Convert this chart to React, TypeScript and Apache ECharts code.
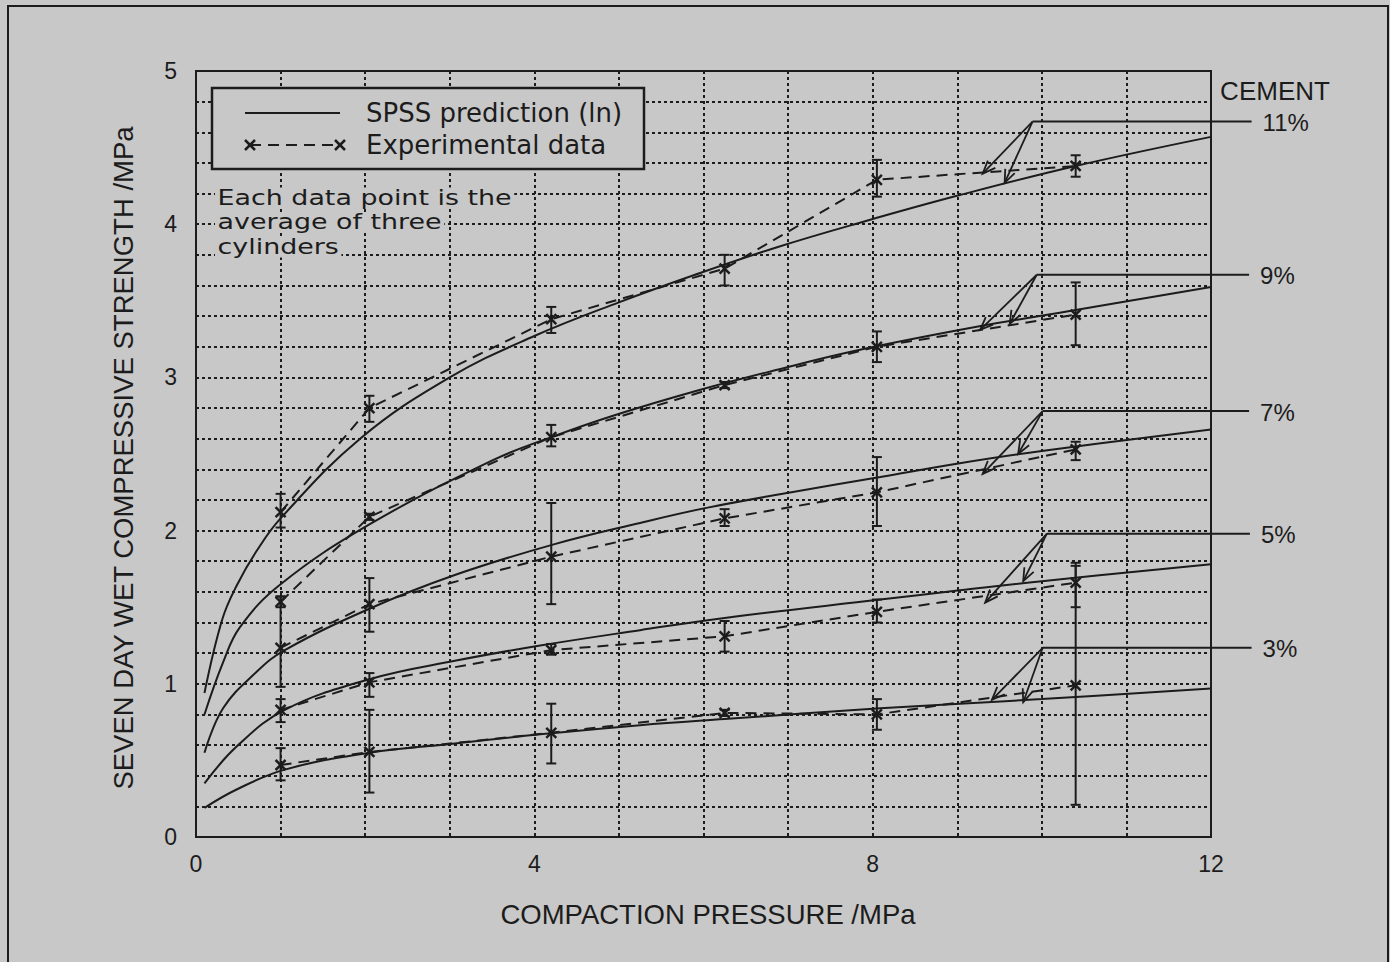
import React, { useEffect, useRef } from "react";
import * as echarts from "echarts";

// ---------- data ----------
const pressure = [1.0, 2.05, 4.2, 6.25, 8.05, 10.4];
const cementLabels = ["11%", "9%", "7%", "5%", "3%"];

const exp11 = [2.12, 2.8, 3.38, 3.71, 4.29, 4.38];
const exp9 = [1.535, 2.09, 2.61, 2.95, 3.2, 3.41];
const exp7 = [1.235, 1.52, 1.83, 2.08, 2.25, 2.53];
const exp5 = [0.83, 1.01, 1.22, 1.31, 1.47, 1.66];
const exp3 = [0.47, 0.555, 0.68, 0.81, 0.8, 0.99];

const low11 = [2.02, 2.71, 3.29, 3.6, 4.18, 4.31];
const high11 = [2.24, 2.88, 3.46, 3.8, 4.42, 4.45];
const low9 = [1.5, 2.07, 2.55, 2.93, 3.1, 3.21];
const high9 = [1.57, 2.11, 2.69, 2.97, 3.3, 3.62];
const low7 = [0.98, 1.34, 1.52, 2.03, 2.03, 2.46];
const high7 = [1.57, 1.69, 2.18, 2.14, 2.48, 2.58];
const low5 = [0.75, 0.915, 1.19, 1.21, 1.4, 1.5];
const high5 = [0.9, 1.07, 1.26, 1.41, 1.55, 1.79];
const low3 = [0.37, 0.29, 0.48, 0.79, 0.7, 0.21];
const high3 = [0.58, 0.83, 0.87, 0.83, 0.9, 1.77];

const fitX11 = [0.1, 0.31, 0.48, 0.72, 1.0, 1.94, 3.0, 4.0, 5.0, 5.9, 6.87, 7.85, 9.03, 10.4, 12];
const fit11 = [0.94, 1.42, 1.64, 1.87, 2.08, 2.6, 3.0, 3.27, 3.49, 3.67, 3.85, 4.01, 4.19, 4.38, 4.57];
const fitX9 = [0.1, 0.32, 0.52, 1.0, 2.05, 3.51, 4.2, 4.93, 5.9, 6.87, 7.85, 9.23, 10.4, 12];
const fit9 = [0.8, 1.14, 1.37, 1.65, 2.04, 2.46, 2.61, 2.75, 2.91, 3.05, 3.18, 3.33, 3.44, 3.59];
const fitX7 = [0.1, 0.32, 0.72, 1.05, 2.05, 3.06, 4.23, 5.25, 6.05, 7.04, 8.09, 9.03, 10.0, 12];
const fit7 = [0.55, 0.84, 1.08, 1.22, 1.49, 1.71, 1.91, 2.05, 2.15, 2.25, 2.35, 2.44, 2.52, 2.66];
const fitX5 = [0.1, 0.48, 1.05, 2.05, 3.06, 4.07, 5.25, 6.25, 8.09, 9.03, 10.0, 12];
const fit5 = [0.35, 0.59, 0.83, 1.03, 1.15, 1.25, 1.35, 1.43, 1.55, 1.61, 1.67, 1.78];
const fitX3 = [0.1, 0.48, 1.05, 2.05, 3.06, 4.07, 5.25, 6.25, 8.09, 9.03, 10.0, 12];
const fit3 = [0.19, 0.31, 0.44, 0.55, 0.61, 0.67, 0.73, 0.77, 0.84, 0.87, 0.9, 0.97];

// annotation callouts (data coordinates)
const annoAnchorX = [9.89, 9.94, 10.01, 10.06, 10.01];
const annoAnchorY = [4.67, 3.67, 2.78, 1.98, 1.235];
const annoEndX = [12.48, 12.45, 12.45, 12.46, 12.48];
const annoDashX = [9.3, 9.27, 9.3, 9.33, 9.41];
const annoDashY = [4.33, 3.31, 2.37, 1.53, 0.895];
const annoCurveX = [9.56, 9.62, 9.72, 9.78, 9.78];
const annoCurveY = [4.27, 3.35, 2.5, 1.67, 0.88];

const xTickLabels = ["0", "4", "8", "12"];
const yTickLabels = ["0", "1", "2", "3", "4", "5"];
const noteLines = ["Each data point is the", "average of three", "cylinders"];

// ---------- styles ----------
const INK = "#1c1c1c";
const BG = "#c8c8c8";
const SANS = '"Liberation Sans", Arial, sans-serif';
const GEO = '"DejaVu Sans", sans-serif';

const expSets = [exp11, exp9, exp7, exp5, exp3];
const lowSets = [low11, low9, low7, low5, low3];
const highSets = [high11, high9, high7, high5, high3];
const fitXs = [fitX11, fitX9, fitX7, fitX5, fitX3];
const fitYs = [fit11, fit9, fit7, fit5, fit3];

export default function App() {
  const ref = useRef<HTMLDivElement>(null);

  useEffect(() => {
    const chart = echarts.init(ref.current!, null, { renderer: "svg" });

    const fitSeries = fitYs.map((ys, k) => ({
      type: "line",
      name: "SPSS " + cementLabels[k],
      data: fitXs[k].map((x, i) => [x, ys[i]]),
      smooth: 0.4,
      symbol: "none",
      lineStyle: { color: INK, width: 2 },
      z: 3,
    }));

    const expSeries = expSets.map((ys, k) => ({
      type: "line",
      name: "Exp " + cementLabels[k],
      data: pressure.map((x, i) => [x, ys[i]]),
      symbol: "none",
      lineStyle: { color: INK, width: 2, type: [11, 7] },
      z: 3,
    }));

    const errData: number[][] = [];
    expSets.forEach((ys, k) => {
      pressure.forEach((x, i) => {
        errData.push([x, lowSets[k][i], highSets[k][i], ys[i]]);
      });
    });

    const errSeries = {
      type: "custom",
      name: "errors",
      data: errData,
      encode: { x: 0, y: [1, 2] },
      z: 4,
      renderItem: (params: any, api: any) => {
        const x = api.value(0);
        const lo = api.coord([x, api.value(1)]);
        const hi = api.coord([x, api.value(2)]);
        const m = api.coord([x, api.value(3)]);
        const style = { stroke: INK, lineWidth: 2, fill: "none" };
        const cw = 5;
        const mk = 5;
        return {
          type: "group",
          children: [
            { type: "line", shape: { x1: lo[0], y1: lo[1], x2: hi[0], y2: hi[1] }, style },
            { type: "line", shape: { x1: lo[0] - cw, y1: lo[1], x2: lo[0] + cw, y2: lo[1] }, style },
            { type: "line", shape: { x1: hi[0] - cw, y1: hi[1], x2: hi[0] + cw, y2: hi[1] }, style },
            { type: "line", shape: { x1: m[0] - mk, y1: m[1] - mk, x2: m[0] + mk, y2: m[1] + mk }, style: { ...style, lineWidth: 2.5 } },
            { type: "line", shape: { x1: m[0] - mk, y1: m[1] + mk, x2: m[0] + mk, y2: m[1] - mk }, style: { ...style, lineWidth: 2.5 } },
          ],
        };
      },
    };

    const annoData = annoAnchorX.map((ax, i) => [
      ax,
      annoAnchorY[i],
      annoEndX[i],
      annoDashX[i],
      annoDashY[i],
      annoCurveX[i],
      annoCurveY[i],
    ]);

    const arrowHead = (from: number[], to: number[]) => {
      const ang = Math.atan2(to[1] - from[1], to[0] - from[0]);
      const L = 14;
      const sp = 0.38;
      return {
        type: "polyline",
        shape: {
          points: [
            [to[0] - L * Math.cos(ang - sp), to[1] - L * Math.sin(ang - sp)],
            [to[0], to[1]],
            [to[0] - L * Math.cos(ang + sp), to[1] - L * Math.sin(ang + sp)],
          ],
        },
        style: { stroke: INK, lineWidth: 1.8, fill: "none" },
      };
    };

    const annoSeries = {
      type: "custom",
      name: "callouts",
      data: annoData,
      clip: false,
      encode: { x: [0, 2, 3, 5], y: [1, 4, 6] },
      z: 5,
      renderItem: (params: any, api: any) => {
        const a = api.coord([api.value(0), api.value(1)]);
        const e = api.coord([api.value(2), api.value(1)]);
        const d = api.coord([api.value(3), api.value(4)]);
        const c = api.coord([api.value(5), api.value(6)]);
        const st = { stroke: INK, lineWidth: 2, fill: "none" };
        const st2 = { stroke: INK, lineWidth: 1.8, fill: "none" };
        return {
          type: "group",
          children: [
            { type: "line", shape: { x1: a[0], y1: a[1], x2: e[0], y2: e[1] }, style: st },
            { type: "line", shape: { x1: a[0], y1: a[1], x2: d[0], y2: d[1] }, style: st2 },
            arrowHead(a, d),
            { type: "line", shape: { x1: a[0], y1: a[1], x2: c[0], y2: c[1] }, style: st2 },
            arrowHead(a, c),
            {
              type: "text",
              x: e[0] + 11,
              y: e[1] + 1,
              style: {
                text: cementLabels[params.dataIndex],
                fill: INK,
                fontSize: 24,
                fontFamily: SANS,
                align: "left",
                verticalAlign: "middle",
              },
            },
          ],
        };
      },
    };

    const noteY = [198, 222.5, 247];

    const option: any = {
      animation: false,
      backgroundColor: BG,
      grid: {
        left: 196,
        right: 179,
        top: 71,
        bottom: 125,
        show: true,
        borderColor: INK,
        borderWidth: 2,
        backgroundColor: "transparent",
      },
      xAxis: {
        type: "value",
        min: 0,
        max: 12,
        interval: 1,
        axisLine: { show: false },
        axisTick: { show: false },
        axisLabel: {
          margin: 15,
          fontSize: 23,
          color: INK,
          fontFamily: SANS,
          formatter: (v: number) => {
            const idx = xTickLabels.indexOf(String(Math.round(v)));
            return Math.abs(v - Math.round(v)) < 1e-6 && idx >= 0 ? xTickLabels[idx] : "";
          },
        },
        splitLine: { show: true, lineStyle: { color: INK, width: 2, type: [3, 3] } },
      },
      yAxis: {
        type: "value",
        min: 0,
        max: 5,
        interval: 0.2,
        axisLine: { show: false },
        axisTick: { show: false },
        axisLabel: {
          margin: 19,
          fontSize: 23,
          color: INK,
          fontFamily: SANS,
          formatter: (v: number) => {
            const r = Math.round(v);
            return Math.abs(v - r) < 1e-6 ? yTickLabels[r] ?? "" : "";
          },
        },
        splitLine: { show: true, lineStyle: { color: INK, width: 2, type: [3, 3] } },
      },
      graphic: [
        {
          type: "rect",
          z: 1,
          shape: { x: 8, y: 6, width: 1380, height: 1000 },
          style: { fill: "none", stroke: INK, lineWidth: 2 },
          silent: true,
        },
        {
          type: "text",
          z: 10,
          x: 123,
          y: 458,
          rotation: Math.PI / 2,
          style: {
            text: "SEVEN DAY WET COMPRESSIVE STRENGTH /MPa",
            fill: INK,
            fontSize: 27.5,
            fontFamily: SANS,
            align: "center",
            verticalAlign: "middle",
          },
        },
        {
          type: "text",
          z: 10,
          x: 708,
          y: 914,
          style: {
            text: "COMPACTION PRESSURE /MPa",
            fill: INK,
            fontSize: 27.5,
            fontFamily: SANS,
            align: "center",
            verticalAlign: "middle",
          },
        },
        {
          type: "text",
          z: 10,
          x: 1275,
          y: 91,
          style: {
            text: "CEMENT",
            fill: INK,
            fontSize: 26,
            fontFamily: SANS,
            align: "center",
            verticalAlign: "middle",
          },
        },
        // legend box
        {
          type: "rect",
          z: 50,
          shape: { x: 212, y: 88, width: 432, height: 81 },
          style: { fill: BG, stroke: INK, lineWidth: 2.5 },
        },
        {
          type: "line",
          z: 51,
          shape: { x1: 245, y1: 113, x2: 340, y2: 113 },
          style: { stroke: INK, lineWidth: 2 },
        },
        {
          type: "line",
          z: 51,
          shape: { x1: 250, y1: 145, x2: 340, y2: 145 },
          style: { stroke: INK, lineWidth: 2, lineDash: [11, 7] },
        },
        {
          type: "line",
          z: 51,
          shape: { x1: 245, y1: 140, x2: 255, y2: 150 },
          style: { stroke: INK, lineWidth: 2.5 },
        },
        {
          type: "line",
          z: 51,
          shape: { x1: 245, y1: 150, x2: 255, y2: 140 },
          style: { stroke: INK, lineWidth: 2.5 },
        },
        {
          type: "line",
          z: 51,
          shape: { x1: 335, y1: 140, x2: 345, y2: 150 },
          style: { stroke: INK, lineWidth: 2.5 },
        },
        {
          type: "line",
          z: 51,
          shape: { x1: 335, y1: 150, x2: 345, y2: 140 },
          style: { stroke: INK, lineWidth: 2.5 },
        },
        {
          type: "text",
          z: 51,
          x: 366,
          y: 113,
          style: {
            text: "SPSS prediction (ln)",
            fill: INK,
            fontSize: 26,
            fontFamily: GEO,
            align: "left",
            verticalAlign: "middle",
          },
        },
        {
          type: "text",
          z: 51,
          x: 366,
          y: 145,
          style: {
            text: "Experimental data",
            fill: INK,
            fontSize: 26,
            fontFamily: GEO,
            align: "left",
            verticalAlign: "middle",
          },
        },
        ...noteLines.map((t, i) => ({
          type: "text",
          z: 50,
          x: 215,
          y: noteY[i],
          scaleX: 1.28,
          style: {
            text: t,
            fill: INK,
            fontSize: 21,
            fontFamily: GEO,
            align: "left",
            verticalAlign: "middle",
            backgroundColor: BG,
            padding: [0, 2, 0, 2],
          },
        })),
      ],
      series: [...fitSeries, ...expSeries, errSeries, annoSeries],
    };

    chart.setOption(option);
    return () => chart.dispose();
  }, []);

  return (
    <div
      ref={ref}
      style={{
        position: "fixed",
        left: 0,
        top: 0,
        width: 1390,
        height: 962,
        background: BG,
      }}
    />
  );
}
